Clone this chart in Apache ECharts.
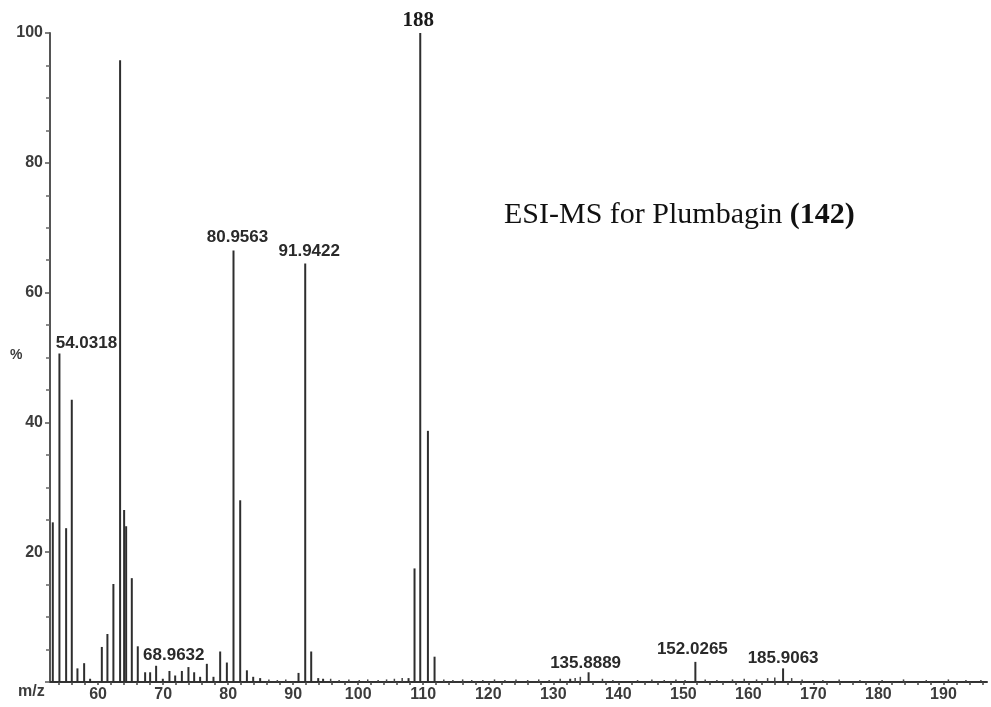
<!DOCTYPE html>
<html>
<head>
<meta charset="utf-8">
<script src="https://cdn.jsdelivr.net/npm/echarts@6/dist/echarts.min.js"></script>
<style>html,body{margin:0;padding:0;background:#fff}#c{width:991px;height:707px}</style>
</head>
<body>
<div id="c"></div>
<script>
// ---- data ----
const peakMz = [53.03,54.05,55.08,55.95,56.82,57.85,58.77,60.57,61.43,62.35,63.38,64.0,64.31,65.18,66.1,
  67.23,68.0,68.92,69.95,70.97,71.85,72.88,73.89,74.77,75.69,76.72,77.74,78.77,79.8,80.82,81.85,82.88,
  83.85,84.92,90.82,91.85,92.77,93.85,94.6,107.74,108.66,109.54,110.72,111.74,132.6,135.43,151.85,165.34];
const peakInt = [24.6,50.6,23.7,43.5,2.1,2.9,0.5,5.4,7.4,15.1,95.8,26.5,24.0,16.0,5.5,
  1.5,1.5,2.5,0.5,1.7,1.0,1.7,2.3,1.5,0.8,2.8,0.8,4.7,3.0,66.5,28.0,1.8,
  0.8,0.6,1.4,64.5,4.7,0.6,0.5,0.6,17.5,100,38.7,3.9,0.5,1.5,3.1,2.1];
const noiseMz = [86.3,87.6,88.9,95.8,97.1,98.6,100.2,101.5,103.1,104.4,105.6,106.8,113.2,114.6,116.1,117.5,
  119.2,121.0,122.6,124.3,126.1,127.8,129.4,131.1,133.4,134.2,137.6,139.2,143.0,145.2,147.1,148.9,150.3,
  153.4,155.2,157.6,159.4,161.3,163.0,164.1,166.7,168.3,171.5,174.0,177.2,180.6,183.9,187.4,190.8,193.5,195.8];
const noiseInt = [0.4,0.3,0.4,0.5,0.3,0.4,0.3,0.4,0.3,0.4,0.5,0.6,0.4,0.3,0.4,0.3,
  0.3,0.4,0.3,0.4,0.3,0.4,0.3,0.5,0.6,0.8,0.5,0.3,0.3,0.4,0.3,0.4,0.3,
  0.4,0.3,0.4,0.5,0.4,0.6,0.7,0.6,0.4,0.3,0.4,0.3,0.3,0.4,0.3,0.4,0.3,0.3];
const labelMz   = [54.05, 66.1, 80.82, 91.85, 109.54, 135.43, 151.85, 165.34];
const labelText = ['54.0318','68.9632','80.9563','91.9422','188','135.8889','152.0265','185.9063'];
const xTickLabels = [60,70,80,90,100,110,120,130,140,150,160,170,180,190];
const xMinorTicks = [54,56,58,60,62,64,66,68,70,72,74,76,78,80,82,84,86,88,90,92,94,96,98,100,102,104,106,108,110,
  112,114,116,118,120,122,124,126,128,130,132,134,136,138,140,142,144,146,148,150,152,154,156,158,160,162,164,166,168,170,
  172,174,176,178,180,182,184,186,188,190,192,194,196];
const titleMain = 'ESI-MS for Plumbagin ';
const titleBold = '(142)';

// ---- label placement (styles) ----
const labelOffsets = {
  '54.0318':[27,0], '68.9632':[36,20], '80.9563':[4,-3], '91.9422':[4,-2],
  '188':[-2,0], '135.8889':[-3,2], '152.0265':[-3,-2], '185.9063':[0,0]
};

const peakData = peakMz.map((m,i)=>{
  const item = {value:[m, peakInt[i]]};
  const li = labelMz.indexOf(m);
  if (li >= 0) {
    const t = labelText[li];
    const isMain = t === '188';
    item.label = {
      show:true, position:'top', distance:2, formatter:t, offset:labelOffsets[t],
      fontFamily: isMain ? '"Liberation Serif","DejaVu Serif",serif' : '"Liberation Sans",Arial,sans-serif',
      fontWeight:'bold', fontSize: isMain ? 21 : 17, color: isMain ? '#1a1a1a' : '#2a2a2a'
    };
  }
  return item;
});
const noiseData = noiseMz.map((m,i)=>[m, noiseInt[i]]);

const chart = echarts.init(document.getElementById('c'), null, {renderer:'canvas'});
chart.setOption({
  backgroundColor:'#ffffff',
  animation:false,
  grid:{left:50, right:4, top:33, bottom:25, containLabel:false},
  xAxis:{
    type:'value', min:52.6, max:196.7,
    axisLine:{show:true, onZero:false, lineStyle:{color:'#333', width:2}},
    axisTick:{show:true, customValues:xMinorTicks, length:3, lineStyle:{color:'#444', width:1.5}},
    axisLabel:{show:true, customValues:xTickLabels, margin:5, fontSize:16, fontWeight:'bold',
      color:'#3c3c3c', fontFamily:'"Liberation Sans",Arial,sans-serif'},
    splitLine:{show:false}
  },
  yAxis:{
    type:'value', min:0, max:100, interval:20,
    axisLine:{show:true, lineStyle:{color:'#555', width:2}},
    axisTick:{show:true, length:5, lineStyle:{color:'#555', width:1.5}},
    minorTick:{show:true, splitNumber:4, length:4, lineStyle:{color:'#666', width:1.5}},
    axisLabel:{show:true, margin:7, fontSize:16, fontWeight:'bold', color:'#3c3c3c',
      fontFamily:'"Liberation Sans",Arial,sans-serif',
      formatter:(v)=> v===0 ? '' : String(v)},
    splitLine:{show:false}
  },
  series:[
    {type:'bar', data:noiseData, barWidth:1.5, barGap:'-100%', itemStyle:{color:'#444'}, silent:true},
    {type:'bar', data:peakData, barWidth:2, barGap:'-100%', itemStyle:{color:'#2e2e2e'}, silent:true}
  ],
  graphic:[
    {type:'text', left:504, top:200, style:{
      text:'{n|'+titleMain+'}{b|'+titleBold+'}',
      rich:{
        n:{fontFamily:'"Liberation Serif","Times New Roman",serif', fontSize:30, fill:'#111'},
        b:{fontFamily:'"Liberation Serif","Times New Roman",serif', fontSize:30, fontWeight:'bold', fill:'#111'}
      }
    }},
    {type:'text', left:10, top:348, style:{text:'%', fontFamily:'"Liberation Sans",Arial,sans-serif',
      fontSize:14, fontWeight:'bold', fill:'#3c3c3c'}},
    {type:'text', left:18, top:684, style:{text:'m/z', fontFamily:'"Liberation Sans",Arial,sans-serif',
      fontSize:16, fontWeight:'bold', fill:'#3c3c3c'}}
  ]
});
</script>
</body>
</html>
